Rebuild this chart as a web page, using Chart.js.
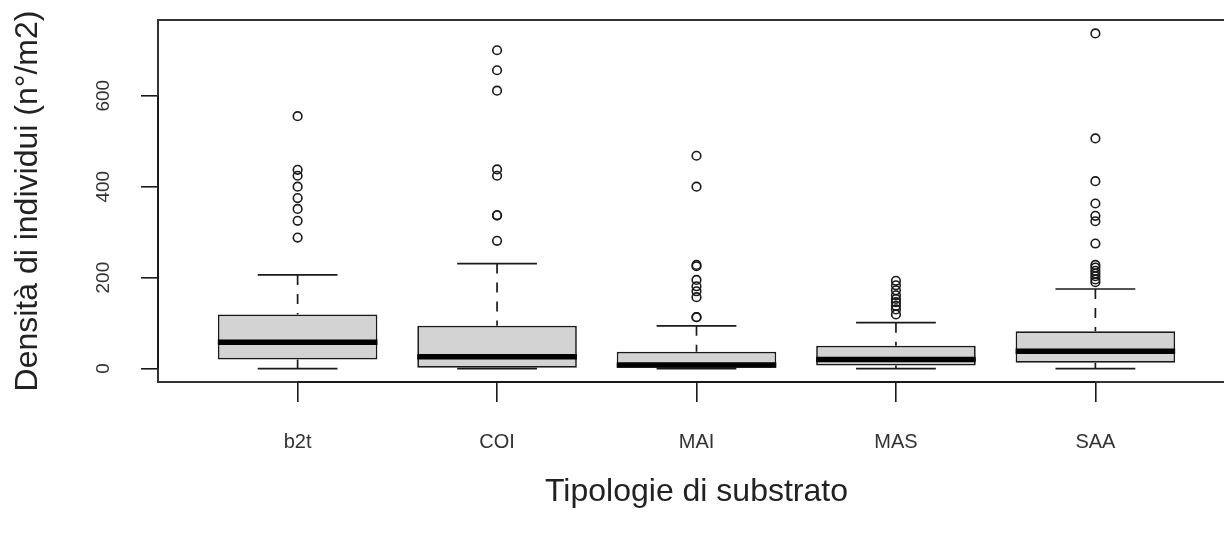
<!DOCTYPE html>
<html>
<head>
<meta charset="utf-8">
<script src="https://cdn.jsdelivr.net/npm/chart.js@4/dist/chart.umd.min.js"></script>
<style>
  html, body { margin: 0; padding: 0; background: #fff; overflow: hidden; width: 1224px; height: 535px; }
  #wrap { width: 1260px; height: 535px; }
  canvas { display: block; }
</style>
</head>
<body>
<div id="wrap"><canvas id="c" width="1260" height="535"></canvas></div>
<script>
// ---- data ----
const categories = ['b2t', 'COI', 'MAI', 'MAS', 'SAA'];
const lowerWhisker = [0, 0, 0, 0, 0];
const q1 = [20, 0, 0, 7, 13];
const median = [58, 26, 8, 20, 38];
const q3 = [119, 94, 37, 50, 82];
const upperWhisker = [206, 231, 94, 101, 175];
const outliersB2t = [288, 325, 351, 375, 400, 424, 437, 555];
const outliersCOI = [281, 337, 337, 424, 438, 611, 656, 700];
const outliersMAI = [113, 113, 157, 170, 181, 195, 225, 228, 400, 468];
const outliersMAS = [119, 130, 138, 146, 153, 161, 172, 183, 193];
const outliersSAA = [190, 196, 203, 209, 215, 222, 228, 275, 324, 336, 363, 412, 506, 737];
const outliers = [outliersB2t, outliersCOI, outliersMAI, outliersMAS, outliersSAA];
const yTicks = [0, 200, 400, 600];
const xTitle = 'Tipologie di substrato';
const yTitle = 'Densità di individui (n°/m2)';

// ---- build datasets ----
const HALF_BOX = 0.4, HALF_CAP = 0.2;
const pos = categories.map((c, i) => i + 1);

const boxData = pos.map((x, i) => ({ x: x, y: [q1[i], q3[i]] }));

const medianData = [];
const capData = [];
const whiskerData = [];
pos.forEach((x, i) => {
  medianData.push({ x: x - HALF_BOX, y: median[i] }, { x: x + HALF_BOX, y: median[i] }, { x: x + 0.5, y: null });
  capData.push({ x: x - HALF_CAP, y: upperWhisker[i] }, { x: x + HALF_CAP, y: upperWhisker[i] }, { x: x + 0.45, y: null });
  capData.push({ x: x - HALF_CAP, y: lowerWhisker[i] }, { x: x + HALF_CAP, y: lowerWhisker[i] }, { x: x + 0.5, y: null });
  whiskerData.push({ x: x, y: upperWhisker[i] }, { x: x, y: q3[i] }, { x: x + 0.01, y: null });
  whiskerData.push({ x: x, y: lowerWhisker[i] }, { x: x, y: q1[i] }, { x: x + 0.02, y: null });
});
const outlierData = [];
outliers.forEach((arr, i) => arr.forEach(v => outlierData.push({ x: pos[i], y: v })));

const INK = '#1a1a1a';
const FONT = '"Liberation Sans", Arial, Helvetica, sans-serif';

const framePlugin = {
  id: 'frame',
  afterDatasetsDraw(chart) {
    const { ctx, chartArea: a, scales: { x, y } } = chart;
    ctx.save();
    ctx.strokeStyle = '#333';
    ctx.lineWidth = 2;
    ctx.beginPath();
    ctx.moveTo(a.right, a.top); ctx.lineTo(a.left, a.top); ctx.lineTo(a.left, a.bottom); ctx.lineTo(a.right, a.bottom);
    ctx.stroke();
    // R axis lines spanning first..last tick
    ctx.strokeStyle = INK;
    ctx.lineWidth = 2;
    ctx.beginPath();
    ctx.moveTo(x.getPixelForValue(pos[0]), a.bottom);
    ctx.lineTo(x.getPixelForValue(pos[pos.length - 1]), a.bottom);
    ctx.moveTo(a.left, y.getPixelForValue(yTicks[0]));
    ctx.lineTo(a.left, y.getPixelForValue(yTicks[yTicks.length - 1]));
    ctx.stroke();
    ctx.restore();
  },
  afterDraw(chart) {
    const { ctx, scales: { y } } = chart;
    ctx.save();
    ctx.font = '19px ' + FONT;
    ctx.fillStyle = '#333';
    ctx.textAlign = 'center';
    ctx.textBaseline = 'middle';
    yTicks.forEach(v => {
      ctx.save();
      ctx.translate(104, y.getPixelForValue(v));
      ctx.rotate(-Math.PI / 2);
      ctx.fillText(String(v), 0, 0);
      ctx.restore();
    });
    ctx.restore();
  }
};

new Chart(document.getElementById('c'), {
  type: 'bar',
  data: {
    datasets: [
      {
        type: 'scatter', label: 'outliers', data: outlierData, order: 0,
        pointStyle: 'circle', pointRadius: 4.3, pointBorderWidth: 1.6,
        pointBorderColor: INK, pointBackgroundColor: 'rgba(0,0,0,0)', showLine: false
      },
      {
        type: 'line', label: 'median', data: medianData, order: 1,
        borderColor: '#000', borderWidth: 5.5, borderCapStyle: 'butt', pointRadius: 0,
        tension: 0, fill: false, spanGaps: false
      },
      {
        type: 'line', label: 'caps', data: capData, order: 2,
        borderColor: INK, borderWidth: 1.7, borderCapStyle: 'butt', pointRadius: 0,
        tension: 0, fill: false, spanGaps: false
      },
      {
        type: 'line', label: 'whiskers', data: whiskerData, order: 3,
        borderColor: INK, borderWidth: 1.7, borderDash: [10, 9], borderCapStyle: 'butt', pointRadius: 0,
        tension: 0, fill: false, spanGaps: false
      },
      {
        type: 'bar', label: 'box', data: boxData, order: 4,
        backgroundColor: '#d3d3d3', borderColor: INK, borderWidth: 1.7, borderSkipped: false,
        barPercentage: 0.8, categoryPercentage: 1, grouped: false
      }
    ]
  },
  options: {
    responsive: false,
    animation: false,
    events: [],
    layout: { padding: { top: 20, left: 0, right: 25, bottom: 0 } },
    plugins: { legend: { display: false }, tooltip: { enabled: false }, title: { display: false } },
    scales: {
      x: {
        type: 'linear', min: 0.3, max: 5.7, offset: false,
        afterBuildTicks: s => { s.ticks = pos.map(v => ({ value: v })); },
        afterFit: s => { s.height = 153; },
        border: { display: false },
        grid: { display: true, offset: false, drawOnChartArea: false, drawTicks: true, tickLength: 20, color: INK, lineWidth: 1.6 },
        ticks: {
          autoSkip: false, maxRotation: 0, minRotation: 0, padding: 28,
          color: '#333', font: { family: FONT, size: 20 },
          callback: v => categories[Math.round(v) - 1] || ''
        },
        title: { display: true, text: xTitle, color: '#222', font: { family: FONT, size: 32 }, padding: { top: 0, bottom: 24 } }
      },
      y: {
        type: 'linear', min: -29.5, max: 766.5,
        afterBuildTicks: s => { s.ticks = yTicks.map(v => ({ value: v })); },
        afterFit: s => { s.width = 158; },
        border: { display: false },
        grid: { display: true, offset: false, drawOnChartArea: false, drawTicks: true, tickLength: 17, color: INK, lineWidth: 1.6 },
        ticks: { display: false },
        title: { display: true, text: yTitle, color: '#222', font: { family: FONT, size: 32 }, padding: { top: 9, bottom: 0 } }
      }
    }
  },
  plugins: [framePlugin]
});
</script>
</body>
</html>
